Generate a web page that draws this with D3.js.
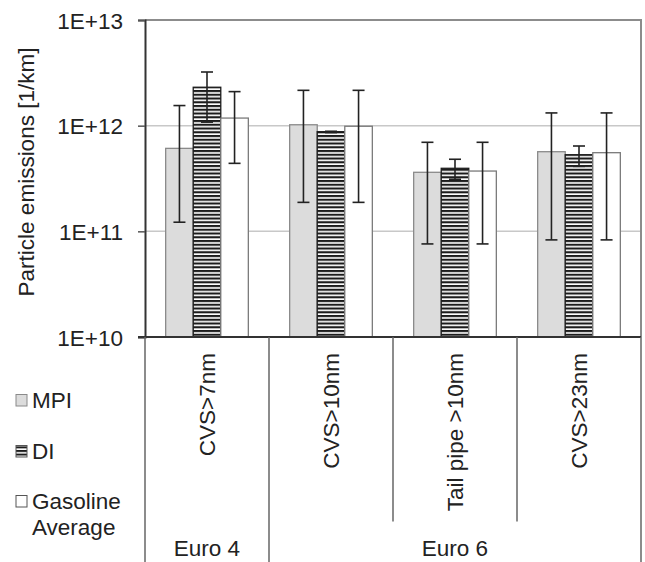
<!DOCTYPE html>
<html>
<head>
<meta charset="utf-8">
<script src="https://cdn.jsdelivr.net/npm/d3@7"></script>
<style>
  html, body { margin: 0; padding: 0; background: #fff; }
  svg { display: block; }
  text { font-family: "Liberation Sans", Arial, Helvetica, sans-serif; fill: #222; }
</style>
</head>
<body>
<svg id="chart" width="645" height="562"></svg>
<script>
// Measurement points along the sampling chain
const categories = ["CVS>7nm", "CVS>10nm", "Tail pipe >10nm", "CVS>23nm"];

// Vehicle groups spanning the categories (first and last category index)
const groupLabels = ["Euro 4", "Euro 6"];
const groupStart = [0, 1];
const groupEnd = [0, 3];

const seriesNames = ["MPI", "DI", "Gasoline Average"];

// Mean particle emissions [1/km] and error-bar limits
const mpiValues = [6.1e11, 1.02e12, 3.62e11, 5.67e11];
const mpiLow    = [1.22e11, 1.88e11, 7.6e10, 8.3e10];
const mpiHigh   = [1.55e12, 2.16e12, 6.96e11, 1.32e12];

const diValues  = [2.31e12, 8.77e11, 3.95e11, 5.31e11];
const diLow     = [1.08e12, 8.6e11, 3.11e11, 4.12e11];
const diHigh    = [3.22e12, 8.85e11, 4.81e11, 6.42e11];

const avgValues = [1.18e12, 9.87e11, 3.72e11, 5.55e11];
const avgLow    = [4.4e11, 1.88e11, 7.6e10, 8.3e10];
const avgHigh   = [2.10e12, 2.16e12, 6.96e11, 1.32e12];

const yTicks = [1e10, 1e11, 1e12, 1e13];

const series = [
  { name: seriesNames[0], values: mpiValues, low: mpiLow, high: mpiHigh },
  { name: seriesNames[1], values: diValues,  low: diLow,  high: diHigh },
  { name: seriesNames[2], values: avgValues, low: avgLow, high: avgHigh }
];

const svg = d3.select("#chart");
const FS = 22.5;

const plot = { left: 145, right: 641, top: 20, bottom: 337 };

// Horizontal stripe fill for the DI bars
const defs = svg.append("defs");
const pat = defs.append("pattern")
  .attr("id", "stripes")
  .attr("patternUnits", "userSpaceOnUse")
  .attr("width", 8).attr("height", 3.75);
pat.append("rect").attr("width", 8).attr("height", 3.75).attr("fill", "#fff");
pat.append("rect").attr("y", 0).attr("width", 8).attr("height", 2.1).attr("fill", "#1c1c1c");

const legPat = defs.append("pattern")
  .attr("id", "stripesSmall")
  .attr("patternUnits", "userSpaceOnUse")
  .attr("width", 8).attr("height", 3.6);
legPat.append("rect").attr("width", 8).attr("height", 3.6).attr("fill", "#fff");
legPat.append("rect").attr("width", 8).attr("height", 2).attr("fill", "#1c1c1c");

const styles = [
  { fill: "#dcdcdc", stroke: "#8a8a8a" },
  { fill: "url(#stripes)", stroke: "#1c1c1c" },
  { fill: "#ffffff", stroke: "#7a7a7a" }
];

// Scales
const y = d3.scaleLog().domain([1e10, 1e13]).range([plot.bottom, plot.top]);
const x0 = d3.scaleBand().domain(categories)
  .range([plot.left, plot.right])
  .paddingInner(1 / 3).paddingOuter(1 / 6);
const x1 = d3.scaleBand().domain(seriesNames).range([0, x0.bandwidth()]).padding(0);

// Gridlines
svg.append("g").selectAll("line")
  .data(yTicks.filter(t => t > 1e10 && t < 1e13))
  .join("line")
  .attr("x1", plot.left).attr("x2", plot.right)
  .attr("y1", d => y(d)).attr("y2", d => y(d))
  .attr("stroke", "#c8c8c8").attr("stroke-width", 1.5);

// Plot frame (top and right)
svg.append("path")
  .attr("d", `M${plot.left},${plot.top}H${plot.right}V${plot.bottom}`)
  .attr("fill", "none").attr("stroke", "#8c8c8c").attr("stroke-width", 2);

// Bars
const groups = svg.append("g").selectAll("g")
  .data(categories)
  .join("g")
  .attr("transform", d => `translate(${x0(d)},0)`);

series.forEach((s, si) => {
  groups.append("rect")
    .attr("x", x1(s.name))
    .attr("y", (d, i) => y(s.values[i]))
    .attr("width", x1.bandwidth())
    .attr("height", (d, i) => y(1e10) - y(s.values[i]))
    .attr("fill", styles[si].fill)
    .attr("stroke", styles[si].stroke)
    .attr("stroke-width", 1.3);
});

// Error bars
const capW = 12;
series.forEach((s, si) => {
  const cx = x1(s.name) + x1.bandwidth() / 2;
  const eb = groups.append("g").attr("stroke", "#222").attr("stroke-width", 1.6);
  eb.append("line")
    .attr("x1", cx).attr("x2", cx)
    .attr("y1", (d, i) => y(s.low[i])).attr("y2", (d, i) => y(s.high[i]));
  eb.append("line")
    .attr("x1", cx - capW / 2).attr("x2", cx + capW / 2)
    .attr("y1", (d, i) => y(s.high[i])).attr("y2", (d, i) => y(s.high[i]));
  eb.append("line")
    .attr("x1", cx - capW / 2).attr("x2", cx + capW / 2)
    .attr("y1", (d, i) => y(s.low[i])).attr("y2", (d, i) => y(s.low[i]));
});

// Y axis
const yAxis = d3.axisLeft(y)
  .tickValues(yTicks)
  .tickFormat(d => "1E+" + Math.round(Math.log10(d)))
  .tickSize(7)
  .tickPadding(15);
const yg = svg.append("g").attr("transform", `translate(${plot.left},0)`).call(yAxis);
yg.select(".domain").attr("stroke", "#333").attr("stroke-width", 2);
yg.selectAll(".tick line").attr("stroke", "#555").attr("stroke-width", 1.5);
yg.selectAll(".tick text")
  .style("font-size", FS + "px")
  .attr("fill", "#222")
  .attr("dy", "0.36em");

// Y title
svg.append("text")
  .attr("transform", `translate(34,172) rotate(-90)`)
  .attr("text-anchor", "middle")
  .style("font-size", FS + "px")
  .text("Particle emissions [1/km]");

// Category axis line
svg.append("line")
  .attr("x1", plot.left - 7).attr("x2", plot.right)
  .attr("y1", plot.bottom).attr("y2", plot.bottom)
  .attr("stroke", "#333").attr("stroke-width", 2);

// Category boundaries below the axis
const step = x0.step();
const x0Start = x0.range()[0];
const boundaries = d3.range(categories.length + 1).map(i => x0Start + i * step);
const groupEdges = new Set([0, categories.length]);
groupStart.forEach(g => groupEdges.add(g));
svg.append("g").selectAll("line")
  .data(boundaries)
  .join("line")
  .attr("x1", d => d).attr("x2", d => d)
  .attr("y1", plot.bottom)
  .attr("y2", (d, i) => groupEdges.has(i) ? 562 : 521.5)
  .attr("stroke", "#666").attr("stroke-width", 1.5);

// Category labels (rotated)
svg.append("g").selectAll("text")
  .data(categories)
  .join("text")
  .attr("transform", d => `translate(${x0(d) + x0.bandwidth() / 2},353) rotate(-90)`)
  .attr("text-anchor", "end")
  .attr("dy", "0.35em")
  .style("font-size", FS + "px")
  .text(d => d);

// Group labels
svg.append("g").selectAll("text")
  .data(groupLabels)
  .join("text")
  .attr("x", (d, i) => (boundaries[groupStart[i]] + boundaries[groupEnd[i] + 1]) / 2)
  .attr("y", 556)
  .attr("text-anchor", "middle")
  .style("font-size", FS + "px")
  .text(d => d);

// Legend
const legendY = [394.5, 445.5, 495.5];
const legendFills = ["#dcdcdc", "url(#stripesSmall)", "#ffffff"];
const legendStrokes = ["#8a8a8a", "#555", "#555"];
const lg = svg.append("g");
series.forEach((s, i) => {
  lg.append("rect")
    .attr("x", 16).attr("y", legendY[i])
    .attr("width", 11).attr("height", 11.5)
    .attr("fill", legendFills[i])
    .attr("stroke", legendStrokes[i]).attr("stroke-width", 1);
  const words = i === 2 ? ["Gasoline", "Average"] : [s.name];
  const t = lg.append("text")
    .attr("x", 32).attr("y", legendY[i] + 13.5)
    .style("font-size", FS + "px");
  words.forEach((w, k) => {
    t.append("tspan").attr("x", 32).attr("dy", k === 0 ? 0 : 26).text(w);
  });
});
</script>
</body>
</html>
